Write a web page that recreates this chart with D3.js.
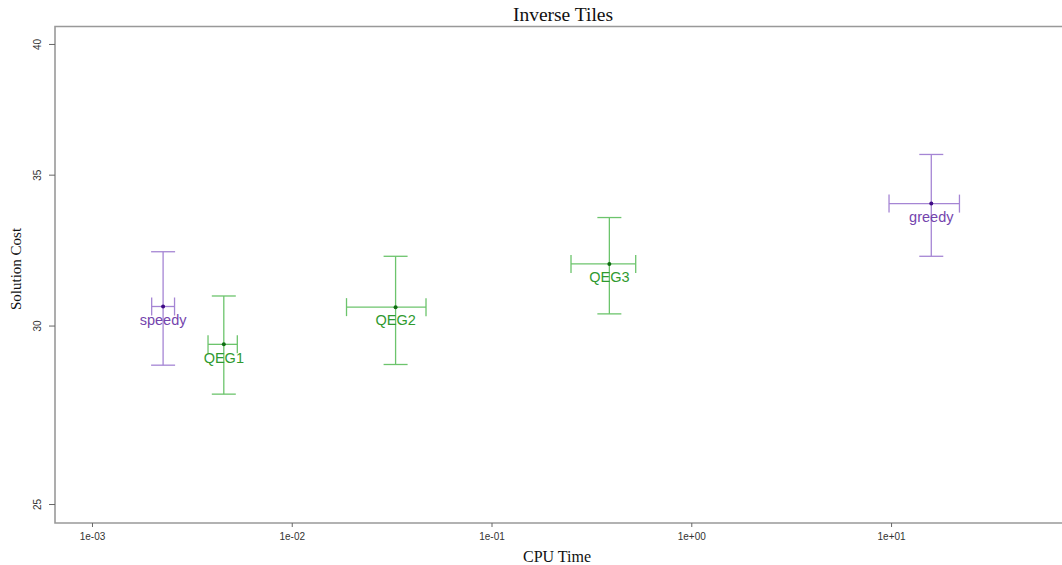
<!DOCTYPE html>
<html>
<head>
<meta charset="utf-8">
<script src="https://cdn.jsdelivr.net/npm/d3@7"></script>
<style>
  html, body { margin: 0; padding: 0; background: #fff; }
  svg { display: block; }
</style>
</head>
<body>
<svg id="chart" width="1062" height="565"></svg>
<script>
// Algorithms compared on the Inverse Tiles domain
const algorithms = ["speedy", "QEG1", "QEG2", "QEG3", "greedy"];
const groups     = ["fast", "qeg", "qeg", "qeg", "fast"];

// CPU time: centre and interval ends (seconds)
const cpuTime   = [0.00227, 0.00457, 0.0331, 0.389, 15.9];
const cpuTimeLo = [0.00199, 0.00381, 0.0188, 0.250, 9.77];
const cpuTimeHi = [0.00259, 0.00534, 0.0470, 0.527, 22.0];

// Solution cost: centre and interval ends
const cost   = [30.59, 29.43, 30.57, 31.95, 33.98];
const costLo = [28.81, 27.97, 28.83, 30.36, 32.20];
const costHi = [32.35, 30.92, 32.20, 33.50, 35.73];

// Axis ticks
const xTicks = [1e-3, 1e-2, 1e-1, 1e0, 1e1];
const xTickLabels = ["1e-03", "1e-02", "1e-01", "1e+00", "1e+01"];
const yTicks = [25, 30, 35, 40];

const palette = {
  fast: { line: "#a585d4", text: "#7444ad", dot: "#3f0a86" },
  qeg:  { line: "#6cc46c", text: "#2f9a2f", dot: "#0f6e12" }
};

const svg = d3.select("#chart");
const box = { left: 55, right: 1072, top: 26.5, bottom: 523 };

const x = d3.scaleLog().domain([6.53e-4, 80.5]).range([box.left, box.right]);
const y = d3.scaleLog().domain([24.52, 40.72]).range([box.bottom, box.top]);

const axisColor = "#999999";

// Plot frame (open on the right, where it runs off the page)
svg.append("path")
  .attr("d", `M${box.right},${box.top}H${box.left}V${box.bottom}H${box.right}`)
  .attr("fill", "none").attr("stroke", axisColor).attr("stroke-width", 1.6);

// X axis ticks and labels
const xAxis = svg.append("g").attr("transform", `translate(0,${box.bottom})`)
  .call(d3.axisBottom(x).tickValues(xTicks).tickSize(4).tickPadding(6)
    .tickFormat((d, i) => xTickLabels[i]));
xAxis.select(".domain").remove();
xAxis.selectAll(".tick line").attr("stroke", "#666");
xAxis.selectAll(".tick text")
  .attr("font-family", "Arial, 'Liberation Sans', sans-serif")
  .attr("font-size", 10).attr("fill", "#333");

// Y axis ticks and rotated labels
const yAxis = svg.append("g").attr("transform", `translate(${box.left},0)`)
  .call(d3.axisLeft(y).tickValues(yTicks).tickSize(6).tickFormat(d3.format("d")));
yAxis.select(".domain").remove();
yAxis.selectAll(".tick line").attr("stroke", "#666");
yAxis.selectAll(".tick text")
  .attr("font-family", "Arial, 'Liberation Sans', sans-serif")
  .attr("font-size", 10).attr("fill", "#333")
  .attr("text-anchor", "middle")
  .attr("x", null).attr("dy", null)
  .attr("transform", "translate(-17,0) rotate(-90)")
  .attr("dominant-baseline", "middle");

// Titles
svg.append("text").attr("x", 563).attr("y", 21)
  .attr("text-anchor", "middle")
  .attr("font-family", "'Liberation Serif', 'Times New Roman', serif")
  .attr("font-size", 19.5).attr("fill", "#111").text("Inverse Tiles");

svg.append("text").attr("x", 557).attr("y", 562)
  .attr("text-anchor", "middle")
  .attr("font-family", "'Liberation Serif', 'Times New Roman', serif")
  .attr("font-size", 16).attr("fill", "#111").text("CPU Time");

svg.append("text")
  .attr("transform", "translate(21,269) rotate(-90)")
  .attr("text-anchor", "middle")
  .attr("font-family", "'Liberation Serif', 'Times New Roman', serif")
  .attr("font-size", 15).attr("fill", "#111").text("Solution Cost");

// Error crosses
const vCap = 12;   // half width of the cost-interval caps
const hCap = 9;    // half height of the time-interval caps

const items = algorithms.map((name, i) => ({
  name, group: groups[i],
  t: cpuTime[i], tLo: cpuTimeLo[i], tHi: cpuTimeHi[i],
  c: cost[i], cLo: costLo[i], cHi: costHi[i]
}));

const g = svg.append("g").selectAll("g").data(items).join("g");

g.each(function(d) {
  const sel = d3.select(this);
  const col = palette[d.group];
  const cx = x(d.t), cy = y(d.c);
  const lines = [
    [cx, y(d.cLo), cx, y(d.cHi)],
    [cx - vCap, y(d.cHi), cx + vCap, y(d.cHi)],
    [cx - vCap, y(d.cLo), cx + vCap, y(d.cLo)],
    [x(d.tLo), cy, x(d.tHi), cy],
    [x(d.tLo), cy - hCap, x(d.tLo), cy + hCap],
    [x(d.tHi), cy - hCap, x(d.tHi), cy + hCap]
  ];
  sel.selectAll("line").data(lines).join("line")
    .attr("x1", l => l[0]).attr("y1", l => l[1])
    .attr("x2", l => l[2]).attr("y2", l => l[3])
    .attr("stroke", col.line).attr("stroke-width", 1.3);
  sel.append("circle").attr("cx", cx).attr("cy", cy).attr("r", 2)
    .attr("fill", col.dot);
  sel.append("text").attr("x", cx).attr("y", cy + 14.5)
    .attr("text-anchor", "middle").attr("dominant-baseline", "middle")
    .attr("font-family", "Arial, 'Liberation Sans', sans-serif")
    .attr("font-size", 14.5).attr("fill", col.text).text(d.name);
});
</script>
</body>
</html>
